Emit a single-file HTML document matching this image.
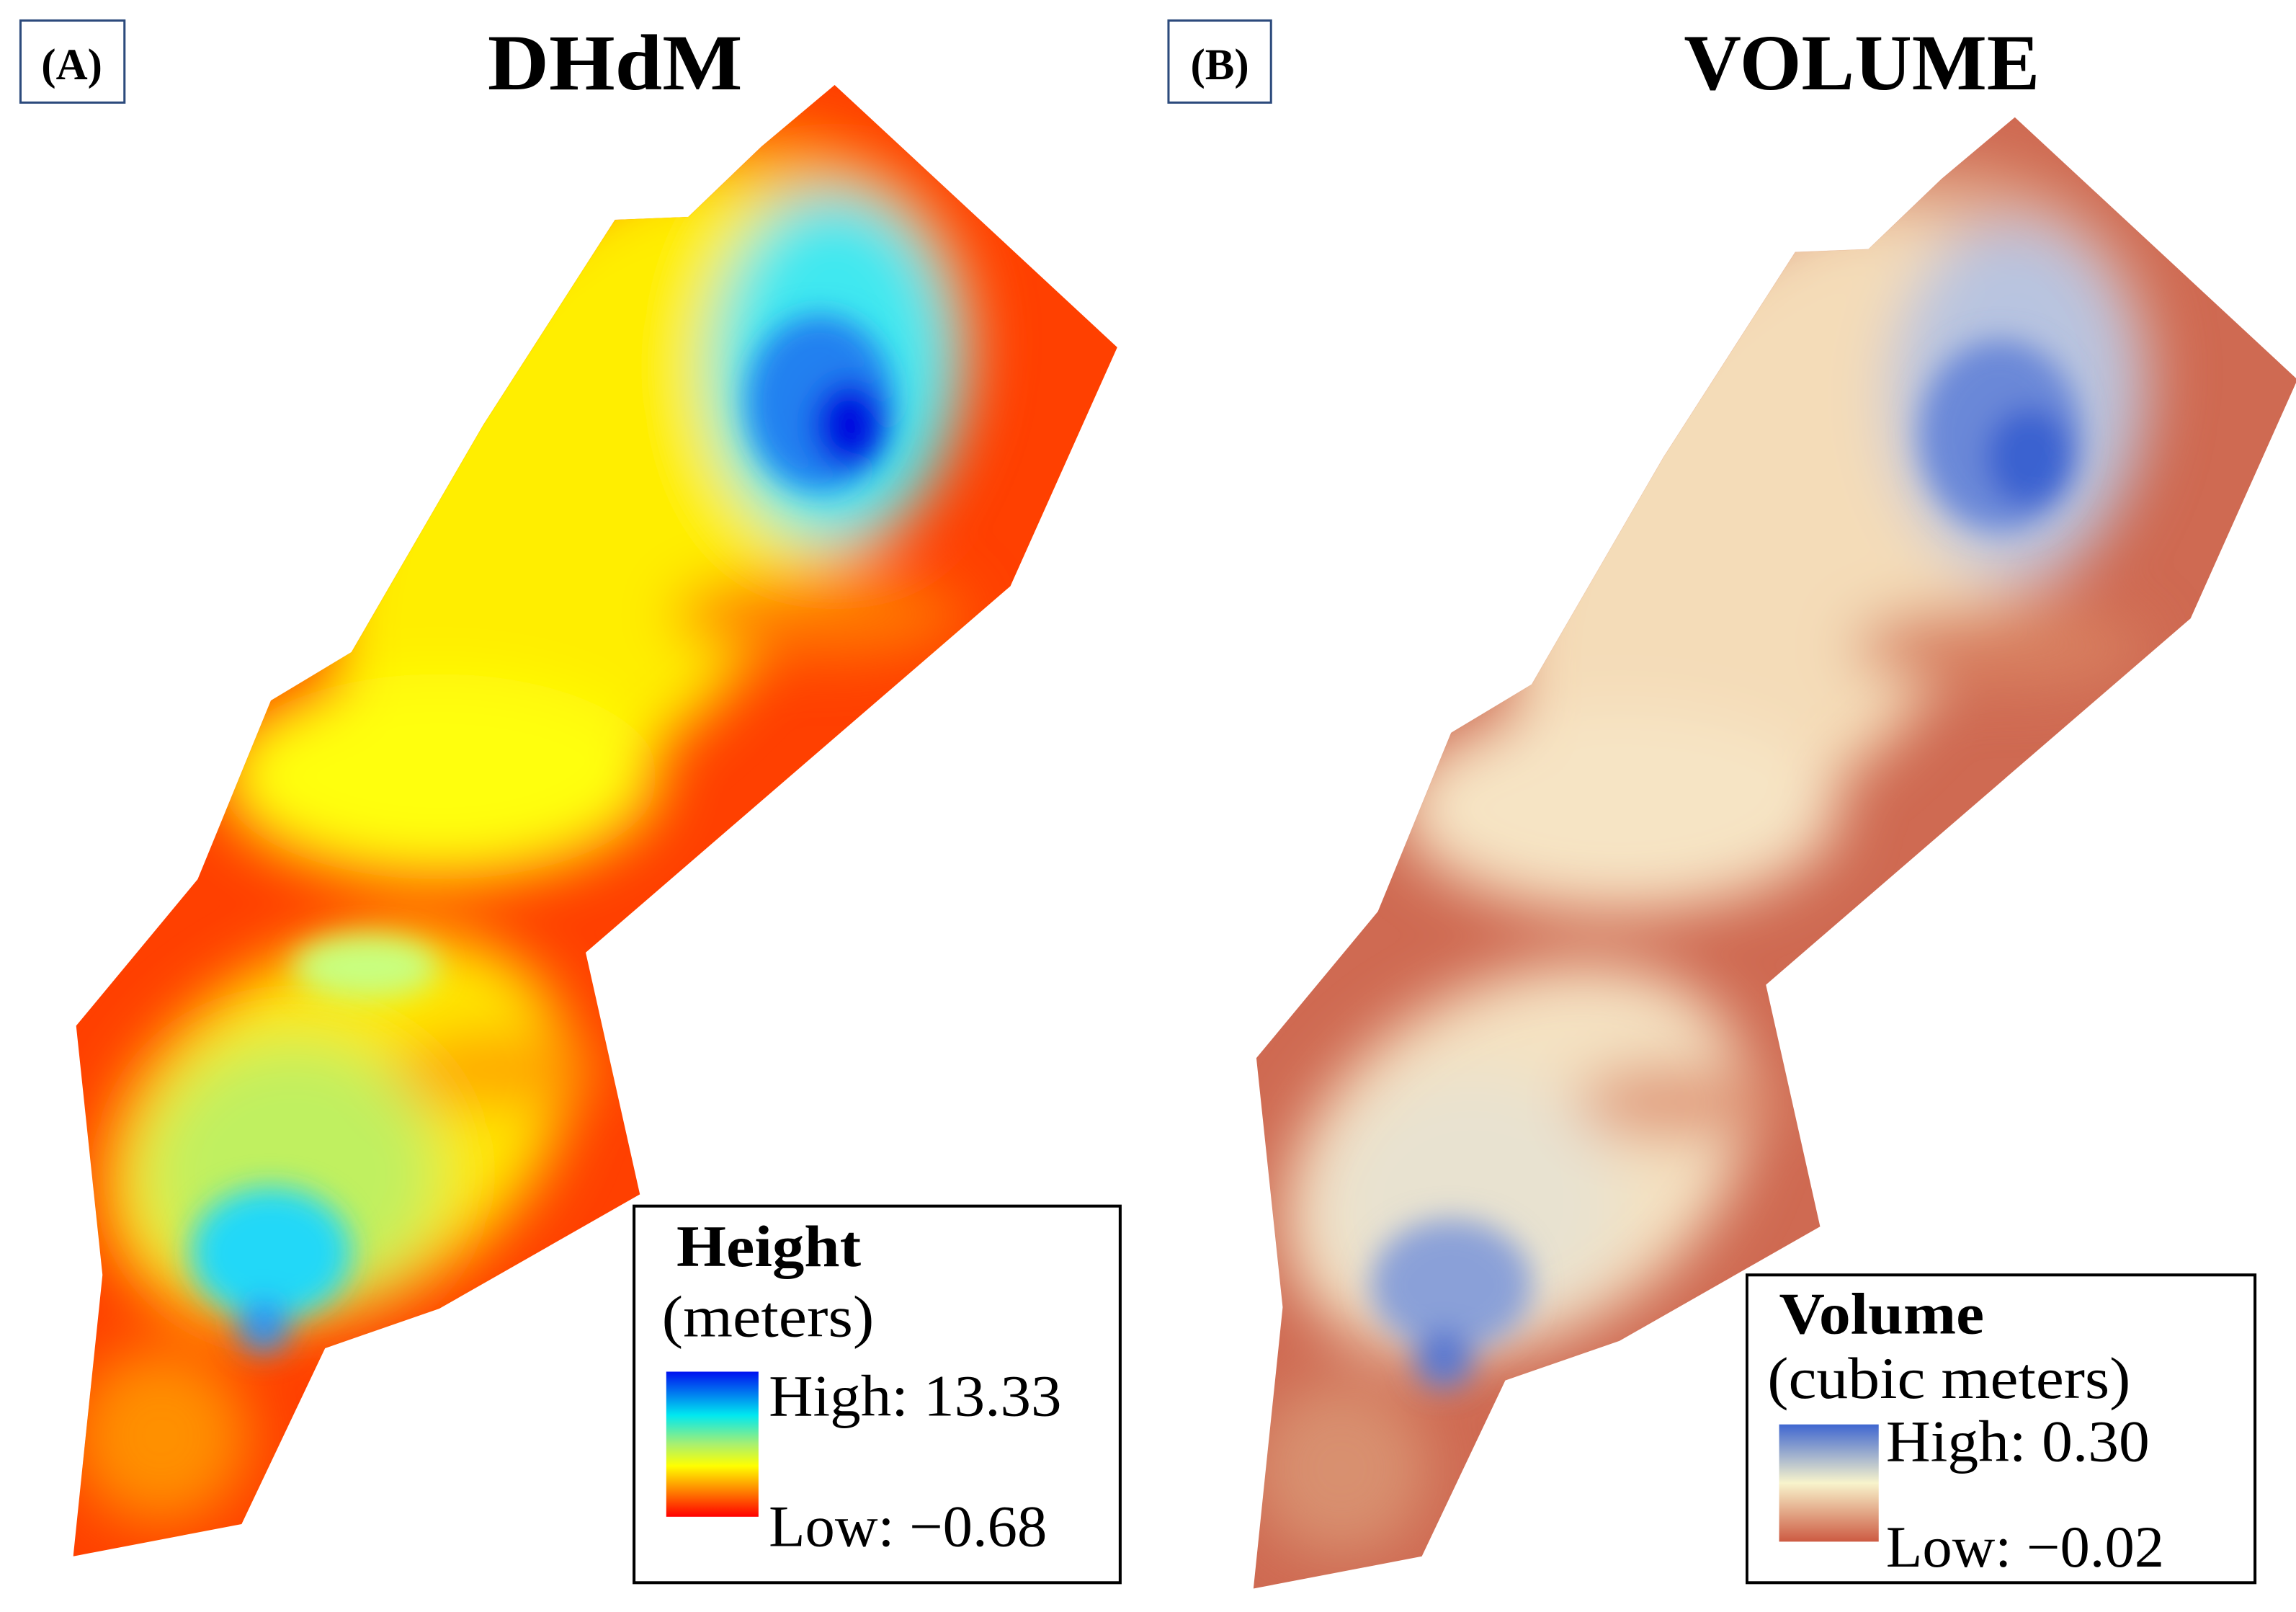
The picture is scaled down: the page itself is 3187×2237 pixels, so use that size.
<!DOCTYPE html>
<html><head><meta charset="utf-8"><style>
html,body{margin:0;padding:0;background:#fff;}
svg{display:block;}
text{font-family:"Liberation Serif",serif;fill:#000;}
</style></head><body>
<svg width="3187" height="2237" viewBox="0 0 1568 1100" preserveAspectRatio="none">
<defs>
<clipPath id="clipA"><path id="outline" d="M570,58 L763,237 L690,400 L400,650 L437,815 L300,893 L222,920 L165,1040 L50,1062 L70,870 L52,700 L135,600 L185,478 L240,445 L330,290 L420,150 L470,148 L520,100 Z"/></clipPath>
<filter id="blur" x="-50%" y="-50%" width="200%" height="200%"><feGaussianBlur stdDeviation="20"/></filter>
<filter id="blur2" x="-50%" y="-50%" width="200%" height="200%"><feGaussianBlur stdDeviation="10"/></filter>
<linearGradient id="gA" x1="0" y1="0" x2="0" y2="1">
<stop offset="0" stop-color="#0010f0"/><stop offset="0.3" stop-color="#00e8f0"/><stop offset="0.5" stop-color="#a8f070"/><stop offset="0.65" stop-color="#ffff00"/><stop offset="1" stop-color="#ff0000"/></linearGradient>
<linearGradient id="gB" x1="0" y1="0" x2="0" y2="1">
<stop offset="0" stop-color="#3f66d0"/><stop offset="0.5" stop-color="#f8f4cc"/><stop offset="1" stop-color="#cd5a42"/></linearGradient>
</defs>

<!-- Panel A -->
<g>
<rect x="14" y="14" width="71" height="56" fill="none" stroke="#2c4a7c" stroke-width="1.5"/>
<text x="49" y="54" text-anchor="middle" font-size="30" font-weight="bold">(A)</text>
<text x="333" y="61" font-size="54" font-weight="bold" textLength="174" lengthAdjust="spacingAndGlyphs">DHdM</text>
<g clip-path="url(#clipA)">
<rect x="0" y="0" width="800" height="1100" fill="#ff4000"/>
<g filter="url(#blur)">
<ellipse cx="480" cy="270" rx="200" ry="160" fill="#ffb000" transform="rotate(-40 480 270)"/>
<ellipse cx="410" cy="340" rx="150" ry="240" fill="#ffee00" transform="rotate(35 410 340)"/>
<ellipse cx="300" cy="530" rx="150" ry="70" fill="#ffff10"/>
<ellipse cx="230" cy="770" rx="170" ry="120" fill="#ffe800" transform="rotate(-30 230 770)"/>
<ellipse cx="200" cy="800" rx="100" ry="90" fill="#c0f060"/>
<ellipse cx="570" cy="250" rx="85" ry="120" fill="#40e8f0"/>
<ellipse cx="560" cy="420" rx="100" ry="28" fill="#ff7a00"/>
<ellipse cx="340" cy="730" rx="70" ry="25" fill="#ffa000"/>
<ellipse cx="110" cy="980" rx="60" ry="60" fill="#ff9000"/>
</g>
<g filter="url(#blur2)">
<ellipse cx="560" cy="275" rx="50" ry="60" fill="#2080f0"/>
<ellipse cx="580" cy="290" rx="25" ry="30" fill="#0010e0"/>
<ellipse cx="185" cy="855" rx="55" ry="45" fill="#20d8f8"/>
<ellipse cx="180" cy="905" rx="18" ry="18" fill="#3090f0"/>
<ellipse cx="250" cy="660" rx="50" ry="22" fill="#c8ff80"/>
</g>
</g>
<g>
<rect x="433" y="823" width="332" height="257" fill="#fff" stroke="#000" stroke-width="2"/>
<text x="462" y="864" font-size="40" font-weight="bold" textLength="126" lengthAdjust="spacingAndGlyphs">Height</text>
<text x="452" y="912" font-size="40" textLength="145" lengthAdjust="spacingAndGlyphs">(meters)</text>
<rect x="455" y="936" width="63" height="99" fill="url(#gA)"/>
<text x="525" y="966" font-size="40" textLength="200" lengthAdjust="spacingAndGlyphs">High: 13.33</text>
<text x="525" y="1055" font-size="40" textLength="190" lengthAdjust="spacingAndGlyphs">Low: −0.68</text>
</g>
</g>

<!-- Panel B -->
<g>
<rect x="798" y="14" width="70" height="56" fill="none" stroke="#2c4a7c" stroke-width="1.5"/>
<text x="833" y="54" text-anchor="middle" font-size="30" font-weight="bold">(B)</text>
<text x="1150" y="61" font-size="54" font-weight="bold" textLength="243" lengthAdjust="spacingAndGlyphs">VOLUME</text>
<g transform="translate(806,22)">
<g clip-path="url(#clipA)">
<rect x="0" y="0" width="800" height="1100" fill="#cf6a52"/>
<g filter="url(#blur)">
<ellipse cx="480" cy="270" rx="200" ry="160" fill="#e2a888" transform="rotate(-40 480 270)"/>
<ellipse cx="410" cy="340" rx="150" ry="240" fill="#f4dcb8" transform="rotate(35 410 340)"/>
<ellipse cx="300" cy="530" rx="150" ry="70" fill="#f6e4c4"/>
<ellipse cx="230" cy="770" rx="170" ry="120" fill="#f4e2c2" transform="rotate(-30 230 770)"/>
<ellipse cx="200" cy="800" rx="100" ry="90" fill="#e8e2d0"/>
<ellipse cx="570" cy="250" rx="85" ry="120" fill="#b8c4e0"/>
<ellipse cx="560" cy="420" rx="100" ry="28" fill="#d88060"/>
<ellipse cx="340" cy="730" rx="70" ry="25" fill="#e09878"/>
<ellipse cx="110" cy="980" rx="60" ry="60" fill="#d89070"/>
</g>
<g filter="url(#blur2)">
<ellipse cx="560" cy="275" rx="55" ry="65" fill="#6a88d8"/>
<ellipse cx="580" cy="290" rx="30" ry="34" fill="#3a62d0"/>
<ellipse cx="185" cy="855" rx="55" ry="45" fill="#8aa0d8"/>
<ellipse cx="180" cy="905" rx="20" ry="20" fill="#5a78d0"/>
</g>
</g>
</g>
<g>
<rect x="1193" y="870" width="347" height="210" fill="#fff" stroke="#000" stroke-width="2"/>
<text x="1215" y="910" font-size="40" font-weight="bold" textLength="140" lengthAdjust="spacingAndGlyphs">Volume</text>
<text x="1207" y="954" font-size="40" textLength="248" lengthAdjust="spacingAndGlyphs">(cubic meters)</text>
<rect x="1215" y="972" width="68" height="80" fill="url(#gB)"/>
<text x="1288" y="997" font-size="40" textLength="180" lengthAdjust="spacingAndGlyphs">High: 0.30</text>
<text x="1288" y="1069" font-size="40" textLength="190" lengthAdjust="spacingAndGlyphs">Low: −0.02</text>
</g>
</g>
</svg>
</body></html>
